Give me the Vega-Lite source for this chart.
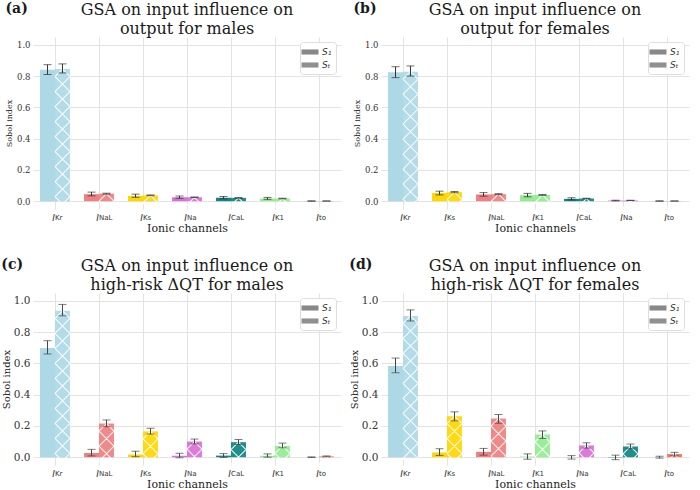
{
  "$schema": "https://vega.github.io/schema/vega-lite/v6.json",
  "background": "white",
  "padding": {"left": 1, "top": 2, "right": 2, "bottom": 0},
  "config": {
    "view": {"stroke": null},
    "font": "DejaVu Serif",
    "title": {"font": "DejaVu Serif", "fontWeight": "normal", "color": "#1a1a1a"},
    "axisY": {"values": [0, 0.2, 0.4, 0.6, 0.8, 1], "format": ".1f", "labelOverlap": false, "labelFont": "DejaVu Serif", "labelColor": "#333", "ticks": false, "domain": false, "gridColor": "#e3e3e3", "labelPadding": 3, "titleFont": "DejaVu Serif", "titleFontWeight": "normal", "titleColor": "#222"},
    "point": {"shape": "M0,0L7.5,7.5M0,0L-7.5,7.5M-7.5,7.5L7.5,22.5M7.5,7.5L-7.5,22.5M-7.5,22.5L7.5,37.5M7.5,22.5L-7.5,37.5M-7.5,37.5L7.5,52.5M7.5,37.5L-7.5,52.5M-7.5,52.5L7.5,67.5M7.5,52.5L-7.5,67.5M-7.5,67.5L7.5,82.5M7.5,67.5L-7.5,82.5M-7.5,82.5L7.5,97.5M7.5,82.5L-7.5,97.5M-7.5,97.5L7.5,112.5M7.5,97.5L-7.5,112.5M-7.5,112.5L7.5,127.5M7.5,112.5L-7.5,127.5M-7.5,127.5L7.5,142.5M7.5,127.5L-7.5,142.5M-7.5,142.5L7.5,157.5M7.5,142.5L-7.5,157.5M-7.5,157.5L7.5,172.5M7.5,157.5L-7.5,172.5", "size": 4, "filled": false, "stroke": "white", "strokeWidth": 1.1, "opacity": 0.9}
  },
  "datasets": {
    "a": [
      {"channel": "Kr", "index": "S1", "value": 0.84, "lo": 0.81, "hi": 0.873},
      {"channel": "Kr", "index": "ST", "value": 0.845, "lo": 0.82, "hi": 0.878},
      {"channel": "NaL", "index": "S1", "value": 0.045, "lo": 0.034, "hi": 0.058},
      {"channel": "NaL", "index": "ST", "value": 0.048, "lo": 0.045, "hi": 0.051},
      {"channel": "Ks", "index": "S1", "value": 0.034, "lo": 0.025, "hi": 0.045},
      {"channel": "Ks", "index": "ST", "value": 0.037, "lo": 0.035, "hi": 0.04},
      {"channel": "Na", "index": "S1", "value": 0.025, "lo": 0.018, "hi": 0.033},
      {"channel": "Na", "index": "ST", "value": 0.025, "lo": 0.023, "hi": 0.027},
      {"channel": "CaL", "index": "S1", "value": 0.022, "lo": 0.015, "hi": 0.03},
      {"channel": "CaL", "index": "ST", "value": 0.021, "lo": 0.019, "hi": 0.023},
      {"channel": "K1", "index": "S1", "value": 0.017, "lo": 0.012, "hi": 0.024},
      {"channel": "K1", "index": "ST", "value": 0.017, "lo": 0.015, "hi": 0.019},
      {"channel": "to", "index": "S1", "value": 0.001, "lo": 0.0, "hi": 0.002},
      {"channel": "to", "index": "ST", "value": 0.001, "lo": 0.0005, "hi": 0.0015}
    ],
    "b": [
      {"channel": "Kr", "index": "S1", "value": 0.825, "lo": 0.79, "hi": 0.86},
      {"channel": "Kr", "index": "ST", "value": 0.828, "lo": 0.8, "hi": 0.865},
      {"channel": "Ks", "index": "S1", "value": 0.052, "lo": 0.04, "hi": 0.064},
      {"channel": "Ks", "index": "ST", "value": 0.058, "lo": 0.054, "hi": 0.062},
      {"channel": "NaL", "index": "S1", "value": 0.043, "lo": 0.032, "hi": 0.055},
      {"channel": "NaL", "index": "ST", "value": 0.045, "lo": 0.042, "hi": 0.048},
      {"channel": "K1", "index": "S1", "value": 0.038, "lo": 0.028, "hi": 0.05},
      {"channel": "K1", "index": "ST", "value": 0.04, "lo": 0.037, "hi": 0.043},
      {"channel": "CaL", "index": "S1", "value": 0.015, "lo": 0.008, "hi": 0.022},
      {"channel": "CaL", "index": "ST", "value": 0.017, "lo": 0.015, "hi": 0.019},
      {"channel": "Na", "index": "S1", "value": 0.004, "lo": 0.002, "hi": 0.006},
      {"channel": "Na", "index": "ST", "value": 0.005, "lo": 0.004, "hi": 0.006},
      {"channel": "to", "index": "S1", "value": 0.001, "lo": 0.0, "hi": 0.002},
      {"channel": "to", "index": "ST", "value": 0.001, "lo": 0.0005, "hi": 0.0015}
    ],
    "c": [
      {"channel": "Kr", "index": "S1", "value": 0.698, "lo": 0.66, "hi": 0.745},
      {"channel": "Kr", "index": "ST", "value": 0.936, "lo": 0.904, "hi": 0.977},
      {"channel": "NaL", "index": "S1", "value": 0.027, "lo": 0.008, "hi": 0.05},
      {"channel": "NaL", "index": "ST", "value": 0.215, "lo": 0.195, "hi": 0.238},
      {"channel": "Ks", "index": "S1", "value": 0.017, "lo": 0.003, "hi": 0.038},
      {"channel": "Ks", "index": "ST", "value": 0.165, "lo": 0.148, "hi": 0.185},
      {"channel": "Na", "index": "S1", "value": 0.009, "lo": -0.004, "hi": 0.025},
      {"channel": "Na", "index": "ST", "value": 0.1, "lo": 0.085, "hi": 0.116},
      {"channel": "CaL", "index": "S1", "value": 0.01, "lo": -0.002, "hi": 0.023},
      {"channel": "CaL", "index": "ST", "value": 0.096, "lo": 0.081, "hi": 0.113},
      {"channel": "K1", "index": "S1", "value": 0.009, "lo": 0.0, "hi": 0.021},
      {"channel": "K1", "index": "ST", "value": 0.072, "lo": 0.06, "hi": 0.09},
      {"channel": "to", "index": "S1", "value": 0.0, "lo": -0.002, "hi": 0.002},
      {"channel": "to", "index": "ST", "value": 0.005, "lo": 0.002, "hi": 0.008}
    ],
    "d": [
      {"channel": "Kr", "index": "S1", "value": 0.583, "lo": 0.54, "hi": 0.634},
      {"channel": "Kr", "index": "ST", "value": 0.903, "lo": 0.871, "hi": 0.942},
      {"channel": "Ks", "index": "S1", "value": 0.03, "lo": 0.011, "hi": 0.054},
      {"channel": "Ks", "index": "ST", "value": 0.262, "lo": 0.232, "hi": 0.29},
      {"channel": "NaL", "index": "S1", "value": 0.034, "lo": 0.013, "hi": 0.056},
      {"channel": "NaL", "index": "ST", "value": 0.247, "lo": 0.217, "hi": 0.273},
      {"channel": "K1", "index": "S1", "value": 0.004, "lo": -0.013, "hi": 0.021},
      {"channel": "K1", "index": "ST", "value": 0.145, "lo": 0.12, "hi": 0.168},
      {"channel": "Na", "index": "S1", "value": -0.001, "lo": -0.012, "hi": 0.01},
      {"channel": "Na", "index": "ST", "value": 0.075, "lo": 0.058, "hi": 0.092},
      {"channel": "CaL", "index": "S1", "value": -0.002, "lo": -0.016, "hi": 0.013},
      {"channel": "CaL", "index": "ST", "value": 0.069, "lo": 0.054, "hi": 0.084},
      {"channel": "to", "index": "S1", "value": 0.0, "lo": -0.006, "hi": 0.006},
      {"channel": "to", "index": "ST", "value": 0.02, "lo": 0.009, "hi": 0.031}
    ]
  },
  "columns": 2,
  "spacing": {"row": 25, "column": 8},
  "resolve": {"scale": {"opacity": "independent"}, "legend": {"opacity": "independent"}},
  "concat": [
    {
      "title": {"text": "(a)", "anchor": "start", "frame": "bounds", "fontWeight": "bold", "fontSize": 14, "offset": -14},
      "resolve": {"scale": {"opacity": "independent"}, "legend": {"opacity": "independent"}},
      "vconcat": [
        {
          "width": 308, "height": 172,
          "title": {"text": ["GSA on input influence on", "output for males"], "fontSize": 16, "lineHeight": 19, "offset": 0},
          "data": {"name": "a"},
          "layer": [
            {
              "mark": {"type": "bar"},
              "encoding": {
                "x": {"field": "channel", "type": "nominal", "scale": {"domain": ["Kr", "NaL", "Ks", "Na", "CaL", "K1", "to"], "paddingInner": 0.32, "paddingOuter": 0.16},
                  "axis": {"orient": "bottom", "labelExpr": "'I'", "labelAngle": 0, "labelAlign": "right", "labelFont": "DejaVu Sans", "labelFontStyle": "italic", "labelFontSize": 9, "labelColor": "#333", "labelDx": -2, "labelPadding": 4, "ticks": false, "domain": false, "grid": true, "gridColor": "#e3e3e3", "title": "Ionic channels", "titleFont": "DejaVu Serif", "titleFontSize": 11, "titleFontWeight": "normal", "titleColor": "#222", "titlePadding": 0}},
                "xOffset": {"field": "index", "type": "nominal", "scale": {"domain": ["S1", "ST"], "paddingInner": 0}},
                "y": {"field": "value", "type": "quantitative", "title": "Sobol index", "scale": {"domain": [-0.05, 1.05], "nice": false, "zero": false},
                  "axis": {"values": [0, 0.2, 0.4, 0.6, 0.8, 1], "labelOverlap": false, "labelFontSize": 8.5, "titleFontSize": 8, "titlePadding": 3}},
                "fill": {"field": "channel", "type": "nominal", "scale": {"domain": ["Kr", "NaL", "Ks", "Na", "CaL", "K1", "to"], "range": ["#add8e6", "#f08080", "#ffd700", "#da70d6", "#0f8584", "#90ee90", "#f86d5c"]}, "legend": null},
                "opacity": {"field": "index", "type": "nominal", "scale": {"domain": ["S1", "ST"], "range": [1, 0.93]},
                  "legend": {"orient": "top-right", "title": null, "labelExpr": "datum.value == 'S1' ? 'S₁' : 'Sₜ'", "labelFont": "DejaVu Sans", "labelFontStyle": "italic", "labelFontSize": 9, "labelColor": "#333", "symbolType": "M-1.5,-0.45H1.5V0.45H-1.5Z", "symbolSize": 128, "symbolFillColor": "#888", "symbolStrokeWidth": 0, "fillColor": "white", "strokeColor": "#dddddd", "cornerRadius": 3, "padding": 4, "offset": 5, "rowPadding": 2, "labelOffset": 6,
                    "encode": {"symbols": {"update": {"fill": {"value": "#888"}, "strokeWidth": {"value": 0}, "opacity": {"signal": "datum.value == 'ST' ? 0.62 : 1"}}}}}}
              }
            },
            {
              "transform": [{"filter": "datum.index == 'ST'"}],
              "mark": {"type": "point", "clip": true},
              "encoding": {
                "x": {"field": "channel", "type": "nominal", "scale": {"domain": ["Kr", "NaL", "Ks", "Na", "CaL", "K1", "to"], "paddingInner": 0.32, "paddingOuter": 0.16}, "axis": null},
                "xOffset": {"field": "index", "type": "nominal", "scale": {"domain": ["S1", "ST"], "paddingInner": 0}},
                "y": {"field": "value", "type": "quantitative", "title": "Sobol index", "axis": {"values": [0, 0.2, 0.4, 0.6, 0.8, 1], "labelOverlap": false, "labelFontSize": 8.5, "titleFontSize": 8, "titlePadding": 3}}
              }
            },
            {
              "mark": {"type": "rule", "color": "#333", "strokeWidth": 1},
              "encoding": {
                "x": {"field": "channel", "type": "nominal", "scale": {"domain": ["Kr", "NaL", "Ks", "Na", "CaL", "K1", "to"], "paddingInner": 0.32, "paddingOuter": 0.16},
                  "axis": {"orient": "bottom", "labelAngle": 0, "labelAlign": "left", "labelFont": "DejaVu Sans", "labelFontSize": 7, "labelColor": "#333", "labelDx": -2, "labelDy": 2, "labelPadding": 4, "ticks": false, "domain": false, "grid": false, "title": null}},
                "xOffset": {"field": "index", "type": "nominal", "scale": {"domain": ["S1", "ST"], "paddingInner": 0}},
                "y": {"field": "lo", "type": "quantitative", "title": "Sobol index", "axis": {"values": [0, 0.2, 0.4, 0.6, 0.8, 1], "labelOverlap": false, "labelFontSize": 8.5, "titleFontSize": 8, "titlePadding": 3}},
                "y2": {"field": "hi"}
              }
            },
            {
              "mark": {"type": "tick", "color": "#333", "size": 8, "thickness": 1},
              "encoding": {
                "x": {"field": "channel", "type": "nominal", "scale": {"domain": ["Kr", "NaL", "Ks", "Na", "CaL", "K1", "to"], "paddingInner": 0.32, "paddingOuter": 0.16}, "axis": null},
                "xOffset": {"field": "index", "type": "nominal", "scale": {"domain": ["S1", "ST"], "paddingInner": 0}},
                "y": {"field": "lo", "type": "quantitative", "title": "Sobol index", "axis": {"values": [0, 0.2, 0.4, 0.6, 0.8, 1], "labelOverlap": false, "labelFontSize": 8.5, "titleFontSize": 8, "titlePadding": 3}}
              }
            },
            {
              "mark": {"type": "tick", "color": "#333", "size": 8, "thickness": 1},
              "encoding": {
                "x": {"field": "channel", "type": "nominal", "scale": {"domain": ["Kr", "NaL", "Ks", "Na", "CaL", "K1", "to"], "paddingInner": 0.32, "paddingOuter": 0.16}, "axis": null},
                "xOffset": {"field": "index", "type": "nominal", "scale": {"domain": ["S1", "ST"], "paddingInner": 0}},
                "y": {"field": "hi", "type": "quantitative", "title": "Sobol index", "axis": {"values": [0, 0.2, 0.4, 0.6, 0.8, 1], "labelOverlap": false, "labelFontSize": 8.5, "titleFontSize": 8, "titlePadding": 3}}
              }
            }
          ],
          "resolve": {"axis": {"x": "independent"}}
        }
      ]
    },
    {
      "title": {"text": "(b)", "anchor": "start", "frame": "bounds", "fontWeight": "bold", "fontSize": 14, "offset": -14},
      "resolve": {"scale": {"opacity": "independent"}, "legend": {"opacity": "independent"}},
      "vconcat": [
        {
          "width": 308, "height": 172,
          "title": {"text": ["GSA on input influence on", "output for females"], "fontSize": 16, "lineHeight": 19, "offset": 0},
          "data": {"name": "b"},
          "layer": [
            {
              "mark": {"type": "bar"},
              "encoding": {
                "x": {"field": "channel", "type": "nominal", "scale": {"domain": ["Kr", "Ks", "NaL", "K1", "CaL", "Na", "to"], "paddingInner": 0.32, "paddingOuter": 0.16},
                  "axis": {"orient": "bottom", "labelExpr": "'I'", "labelAngle": 0, "labelAlign": "right", "labelFont": "DejaVu Sans", "labelFontStyle": "italic", "labelFontSize": 9, "labelColor": "#333", "labelDx": -2, "labelPadding": 4, "ticks": false, "domain": false, "grid": true, "gridColor": "#e3e3e3", "title": "Ionic channels", "titleFont": "DejaVu Serif", "titleFontSize": 11, "titleFontWeight": "normal", "titleColor": "#222", "titlePadding": 0}},
                "xOffset": {"field": "index", "type": "nominal", "scale": {"domain": ["S1", "ST"], "paddingInner": 0}},
                "y": {"field": "value", "type": "quantitative", "title": "Sobol index", "scale": {"domain": [-0.05, 1.05], "nice": false, "zero": false},
                  "axis": {"values": [0, 0.2, 0.4, 0.6, 0.8, 1], "labelOverlap": false, "labelFontSize": 8.5, "titleFontSize": 8, "titlePadding": 3}},
                "fill": {"field": "channel", "type": "nominal", "scale": {"domain": ["Kr", "NaL", "Ks", "Na", "CaL", "K1", "to"], "range": ["#add8e6", "#f08080", "#ffd700", "#da70d6", "#0f8584", "#90ee90", "#f86d5c"]}, "legend": null},
                "opacity": {"field": "index", "type": "nominal", "scale": {"domain": ["S1", "ST"], "range": [1, 0.93]},
                  "legend": {"orient": "top-right", "title": null, "labelExpr": "datum.value == 'S1' ? 'S₁' : 'Sₜ'", "labelFont": "DejaVu Sans", "labelFontStyle": "italic", "labelFontSize": 9, "labelColor": "#333", "symbolType": "M-1.5,-0.45H1.5V0.45H-1.5Z", "symbolSize": 128, "symbolFillColor": "#888", "symbolStrokeWidth": 0, "fillColor": "white", "strokeColor": "#dddddd", "cornerRadius": 3, "padding": 4, "offset": 5, "rowPadding": 2, "labelOffset": 6,
                    "encode": {"symbols": {"update": {"fill": {"value": "#888"}, "strokeWidth": {"value": 0}, "opacity": {"signal": "datum.value == 'ST' ? 0.62 : 1"}}}}}}
              }
            },
            {
              "transform": [{"filter": "datum.index == 'ST'"}],
              "mark": {"type": "point", "clip": true},
              "encoding": {
                "x": {"field": "channel", "type": "nominal", "scale": {"domain": ["Kr", "Ks", "NaL", "K1", "CaL", "Na", "to"], "paddingInner": 0.32, "paddingOuter": 0.16}, "axis": null},
                "xOffset": {"field": "index", "type": "nominal", "scale": {"domain": ["S1", "ST"], "paddingInner": 0}},
                "y": {"field": "value", "type": "quantitative", "title": "Sobol index", "axis": {"values": [0, 0.2, 0.4, 0.6, 0.8, 1], "labelOverlap": false, "labelFontSize": 8.5, "titleFontSize": 8, "titlePadding": 3}}
              }
            },
            {
              "mark": {"type": "rule", "color": "#333", "strokeWidth": 1},
              "encoding": {
                "x": {"field": "channel", "type": "nominal", "scale": {"domain": ["Kr", "Ks", "NaL", "K1", "CaL", "Na", "to"], "paddingInner": 0.32, "paddingOuter": 0.16},
                  "axis": {"orient": "bottom", "labelAngle": 0, "labelAlign": "left", "labelFont": "DejaVu Sans", "labelFontSize": 7, "labelColor": "#333", "labelDx": -2, "labelDy": 2, "labelPadding": 4, "ticks": false, "domain": false, "grid": false, "title": null}},
                "xOffset": {"field": "index", "type": "nominal", "scale": {"domain": ["S1", "ST"], "paddingInner": 0}},
                "y": {"field": "lo", "type": "quantitative", "title": "Sobol index", "axis": {"values": [0, 0.2, 0.4, 0.6, 0.8, 1], "labelOverlap": false, "labelFontSize": 8.5, "titleFontSize": 8, "titlePadding": 3}},
                "y2": {"field": "hi"}
              }
            },
            {
              "mark": {"type": "tick", "color": "#333", "size": 8, "thickness": 1},
              "encoding": {
                "x": {"field": "channel", "type": "nominal", "scale": {"domain": ["Kr", "Ks", "NaL", "K1", "CaL", "Na", "to"], "paddingInner": 0.32, "paddingOuter": 0.16}, "axis": null},
                "xOffset": {"field": "index", "type": "nominal", "scale": {"domain": ["S1", "ST"], "paddingInner": 0}},
                "y": {"field": "lo", "type": "quantitative", "title": "Sobol index", "axis": {"values": [0, 0.2, 0.4, 0.6, 0.8, 1], "labelOverlap": false, "labelFontSize": 8.5, "titleFontSize": 8, "titlePadding": 3}}
              }
            },
            {
              "mark": {"type": "tick", "color": "#333", "size": 8, "thickness": 1},
              "encoding": {
                "x": {"field": "channel", "type": "nominal", "scale": {"domain": ["Kr", "Ks", "NaL", "K1", "CaL", "Na", "to"], "paddingInner": 0.32, "paddingOuter": 0.16}, "axis": null},
                "xOffset": {"field": "index", "type": "nominal", "scale": {"domain": ["S1", "ST"], "paddingInner": 0}},
                "y": {"field": "hi", "type": "quantitative", "title": "Sobol index", "axis": {"values": [0, 0.2, 0.4, 0.6, 0.8, 1], "labelOverlap": false, "labelFontSize": 8.5, "titleFontSize": 8, "titlePadding": 3}}
              }
            }
          ],
          "resolve": {"axis": {"x": "independent"}}
        }
      ]
    },
    {
      "title": {"text": "(c)", "anchor": "start", "frame": "bounds", "fontWeight": "bold", "fontSize": 14, "offset": -14},
      "resolve": {"scale": {"opacity": "independent"}, "legend": {"opacity": "independent"}},
      "vconcat": [
        {
          "width": 308, "height": 172,
          "title": {"text": ["GSA on input influence on", "high-risk ΔQT for males"], "fontSize": 16, "lineHeight": 19, "offset": 0},
          "data": {"name": "c"},
          "layer": [
            {
              "mark": {"type": "bar"},
              "encoding": {
                "x": {"field": "channel", "type": "nominal", "scale": {"domain": ["Kr", "NaL", "Ks", "Na", "CaL", "K1", "to"], "paddingInner": 0.32, "paddingOuter": 0.16},
                  "axis": {"orient": "bottom", "labelExpr": "'I'", "labelAngle": 0, "labelAlign": "right", "labelFont": "DejaVu Sans", "labelFontStyle": "italic", "labelFontSize": 9, "labelColor": "#333", "labelDx": -2, "labelPadding": 4, "ticks": false, "domain": false, "grid": true, "gridColor": "#e3e3e3", "title": "Ionic channels", "titleFont": "DejaVu Serif", "titleFontSize": 11, "titleFontWeight": "normal", "titleColor": "#222", "titlePadding": 0}},
                "xOffset": {"field": "index", "type": "nominal", "scale": {"domain": ["S1", "ST"], "paddingInner": 0}},
                "y": {"field": "value", "type": "quantitative", "title": "Sobol index", "scale": {"domain": [-0.05, 1.05], "nice": false, "zero": false},
                  "axis": {"values": [0, 0.2, 0.4, 0.6, 0.8, 1], "labelOverlap": false, "labelFontSize": 10.5, "titleFontSize": 10, "titlePadding": 2}},
                "fill": {"field": "channel", "type": "nominal", "scale": {"domain": ["Kr", "NaL", "Ks", "Na", "CaL", "K1", "to"], "range": ["#add8e6", "#f08080", "#ffd700", "#da70d6", "#0f8584", "#90ee90", "#f86d5c"]}, "legend": null},
                "opacity": {"field": "index", "type": "nominal", "scale": {"domain": ["S1", "ST"], "range": [1, 0.93]},
                  "legend": {"orient": "top-right", "title": null, "labelExpr": "datum.value == 'S1' ? 'S₁' : 'Sₜ'", "labelFont": "DejaVu Sans", "labelFontStyle": "italic", "labelFontSize": 9, "labelColor": "#333", "symbolType": "M-1.5,-0.45H1.5V0.45H-1.5Z", "symbolSize": 128, "symbolFillColor": "#888", "symbolStrokeWidth": 0, "fillColor": "white", "strokeColor": "#dddddd", "cornerRadius": 3, "padding": 4, "offset": 5, "rowPadding": 2, "labelOffset": 6,
                    "encode": {"symbols": {"update": {"fill": {"value": "#888"}, "strokeWidth": {"value": 0}, "opacity": {"signal": "datum.value == 'ST' ? 0.62 : 1"}}}}}}
              }
            },
            {
              "transform": [{"filter": "datum.index == 'ST'"}],
              "mark": {"type": "point", "clip": true},
              "encoding": {
                "x": {"field": "channel", "type": "nominal", "scale": {"domain": ["Kr", "NaL", "Ks", "Na", "CaL", "K1", "to"], "paddingInner": 0.32, "paddingOuter": 0.16}, "axis": null},
                "xOffset": {"field": "index", "type": "nominal", "scale": {"domain": ["S1", "ST"], "paddingInner": 0}},
                "y": {"field": "value", "type": "quantitative", "title": "Sobol index", "axis": {"values": [0, 0.2, 0.4, 0.6, 0.8, 1], "labelOverlap": false, "labelFontSize": 10.5, "titleFontSize": 10, "titlePadding": 2}}
              }
            },
            {
              "mark": {"type": "rule", "color": "#444", "strokeWidth": 1},
              "encoding": {
                "x": {"field": "channel", "type": "nominal", "scale": {"domain": ["Kr", "NaL", "Ks", "Na", "CaL", "K1", "to"], "paddingInner": 0.32, "paddingOuter": 0.16},
                  "axis": {"orient": "bottom", "labelAngle": 0, "labelAlign": "left", "labelFont": "DejaVu Sans", "labelFontSize": 7, "labelColor": "#333", "labelDx": -2, "labelDy": 2, "labelPadding": 4, "ticks": false, "domain": false, "grid": false, "title": null}},
                "xOffset": {"field": "index", "type": "nominal", "scale": {"domain": ["S1", "ST"], "paddingInner": 0}},
                "y": {"field": "lo", "type": "quantitative", "title": "Sobol index", "axis": {"values": [0, 0.2, 0.4, 0.6, 0.8, 1], "labelOverlap": false, "labelFontSize": 10.5, "titleFontSize": 10, "titlePadding": 2}},
                "y2": {"field": "hi"}
              }
            },
            {
              "mark": {"type": "tick", "color": "#444", "size": 8, "thickness": 1},
              "encoding": {
                "x": {"field": "channel", "type": "nominal", "scale": {"domain": ["Kr", "NaL", "Ks", "Na", "CaL", "K1", "to"], "paddingInner": 0.32, "paddingOuter": 0.16}, "axis": null},
                "xOffset": {"field": "index", "type": "nominal", "scale": {"domain": ["S1", "ST"], "paddingInner": 0}},
                "y": {"field": "lo", "type": "quantitative", "title": "Sobol index", "axis": {"values": [0, 0.2, 0.4, 0.6, 0.8, 1], "labelOverlap": false, "labelFontSize": 10.5, "titleFontSize": 10, "titlePadding": 2}}
              }
            },
            {
              "mark": {"type": "tick", "color": "#444", "size": 8, "thickness": 1},
              "encoding": {
                "x": {"field": "channel", "type": "nominal", "scale": {"domain": ["Kr", "NaL", "Ks", "Na", "CaL", "K1", "to"], "paddingInner": 0.32, "paddingOuter": 0.16}, "axis": null},
                "xOffset": {"field": "index", "type": "nominal", "scale": {"domain": ["S1", "ST"], "paddingInner": 0}},
                "y": {"field": "hi", "type": "quantitative", "title": "Sobol index", "axis": {"values": [0, 0.2, 0.4, 0.6, 0.8, 1], "labelOverlap": false, "labelFontSize": 10.5, "titleFontSize": 10, "titlePadding": 2}}
              }
            }
          ],
          "resolve": {"axis": {"x": "independent"}}
        }
      ]
    },
    {
      "title": {"text": "(d)", "anchor": "start", "frame": "bounds", "fontWeight": "bold", "fontSize": 14, "offset": -14},
      "resolve": {"scale": {"opacity": "independent"}, "legend": {"opacity": "independent"}},
      "vconcat": [
        {
          "width": 308, "height": 172,
          "title": {"text": ["GSA on input influence on", "high-risk ΔQT for females"], "fontSize": 16, "lineHeight": 19, "offset": 0},
          "data": {"name": "d"},
          "layer": [
            {
              "mark": {"type": "bar"},
              "encoding": {
                "x": {"field": "channel", "type": "nominal", "scale": {"domain": ["Kr", "Ks", "NaL", "K1", "Na", "CaL", "to"], "paddingInner": 0.32, "paddingOuter": 0.16},
                  "axis": {"orient": "bottom", "labelExpr": "'I'", "labelAngle": 0, "labelAlign": "right", "labelFont": "DejaVu Sans", "labelFontStyle": "italic", "labelFontSize": 9, "labelColor": "#333", "labelDx": -2, "labelPadding": 4, "ticks": false, "domain": false, "grid": true, "gridColor": "#e3e3e3", "title": "Ionic channels", "titleFont": "DejaVu Serif", "titleFontSize": 11, "titleFontWeight": "normal", "titleColor": "#222", "titlePadding": 0}},
                "xOffset": {"field": "index", "type": "nominal", "scale": {"domain": ["S1", "ST"], "paddingInner": 0}},
                "y": {"field": "value", "type": "quantitative", "title": "Sobol index", "scale": {"domain": [-0.05, 1.05], "nice": false, "zero": false},
                  "axis": {"values": [0, 0.2, 0.4, 0.6, 0.8, 1], "labelOverlap": false, "labelFontSize": 10.5, "titleFontSize": 10, "titlePadding": 2}},
                "fill": {"field": "channel", "type": "nominal", "scale": {"domain": ["Kr", "NaL", "Ks", "Na", "CaL", "K1", "to"], "range": ["#add8e6", "#f08080", "#ffd700", "#da70d6", "#0f8584", "#90ee90", "#f86d5c"]}, "legend": null},
                "opacity": {"field": "index", "type": "nominal", "scale": {"domain": ["S1", "ST"], "range": [1, 0.93]},
                  "legend": {"orient": "top-right", "title": null, "labelExpr": "datum.value == 'S1' ? 'S₁' : 'Sₜ'", "labelFont": "DejaVu Sans", "labelFontStyle": "italic", "labelFontSize": 9, "labelColor": "#333", "symbolType": "M-1.5,-0.45H1.5V0.45H-1.5Z", "symbolSize": 128, "symbolFillColor": "#888", "symbolStrokeWidth": 0, "fillColor": "white", "strokeColor": "#dddddd", "cornerRadius": 3, "padding": 4, "offset": 5, "rowPadding": 2, "labelOffset": 6,
                    "encode": {"symbols": {"update": {"fill": {"value": "#888"}, "strokeWidth": {"value": 0}, "opacity": {"signal": "datum.value == 'ST' ? 0.62 : 1"}}}}}}
              }
            },
            {
              "transform": [{"filter": "datum.index == 'ST'"}],
              "mark": {"type": "point", "clip": true},
              "encoding": {
                "x": {"field": "channel", "type": "nominal", "scale": {"domain": ["Kr", "Ks", "NaL", "K1", "Na", "CaL", "to"], "paddingInner": 0.32, "paddingOuter": 0.16}, "axis": null},
                "xOffset": {"field": "index", "type": "nominal", "scale": {"domain": ["S1", "ST"], "paddingInner": 0}},
                "y": {"field": "value", "type": "quantitative", "title": "Sobol index", "axis": {"values": [0, 0.2, 0.4, 0.6, 0.8, 1], "labelOverlap": false, "labelFontSize": 10.5, "titleFontSize": 10, "titlePadding": 2}}
              }
            },
            {
              "mark": {"type": "rule", "color": "#444", "strokeWidth": 1},
              "encoding": {
                "x": {"field": "channel", "type": "nominal", "scale": {"domain": ["Kr", "Ks", "NaL", "K1", "Na", "CaL", "to"], "paddingInner": 0.32, "paddingOuter": 0.16},
                  "axis": {"orient": "bottom", "labelAngle": 0, "labelAlign": "left", "labelFont": "DejaVu Sans", "labelFontSize": 7, "labelColor": "#333", "labelDx": -2, "labelDy": 2, "labelPadding": 4, "ticks": false, "domain": false, "grid": false, "title": null}},
                "xOffset": {"field": "index", "type": "nominal", "scale": {"domain": ["S1", "ST"], "paddingInner": 0}},
                "y": {"field": "lo", "type": "quantitative", "title": "Sobol index", "axis": {"values": [0, 0.2, 0.4, 0.6, 0.8, 1], "labelOverlap": false, "labelFontSize": 10.5, "titleFontSize": 10, "titlePadding": 2}},
                "y2": {"field": "hi"}
              }
            },
            {
              "mark": {"type": "tick", "color": "#444", "size": 8, "thickness": 1},
              "encoding": {
                "x": {"field": "channel", "type": "nominal", "scale": {"domain": ["Kr", "Ks", "NaL", "K1", "Na", "CaL", "to"], "paddingInner": 0.32, "paddingOuter": 0.16}, "axis": null},
                "xOffset": {"field": "index", "type": "nominal", "scale": {"domain": ["S1", "ST"], "paddingInner": 0}},
                "y": {"field": "lo", "type": "quantitative", "title": "Sobol index", "axis": {"values": [0, 0.2, 0.4, 0.6, 0.8, 1], "labelOverlap": false, "labelFontSize": 10.5, "titleFontSize": 10, "titlePadding": 2}}
              }
            },
            {
              "mark": {"type": "tick", "color": "#444", "size": 8, "thickness": 1},
              "encoding": {
                "x": {"field": "channel", "type": "nominal", "scale": {"domain": ["Kr", "Ks", "NaL", "K1", "Na", "CaL", "to"], "paddingInner": 0.32, "paddingOuter": 0.16}, "axis": null},
                "xOffset": {"field": "index", "type": "nominal", "scale": {"domain": ["S1", "ST"], "paddingInner": 0}},
                "y": {"field": "hi", "type": "quantitative", "title": "Sobol index", "axis": {"values": [0, 0.2, 0.4, 0.6, 0.8, 1], "labelOverlap": false, "labelFontSize": 10.5, "titleFontSize": 10, "titlePadding": 2}}
              }
            }
          ],
          "resolve": {"axis": {"x": "independent"}}
        }
      ]
    }
  ]
}
